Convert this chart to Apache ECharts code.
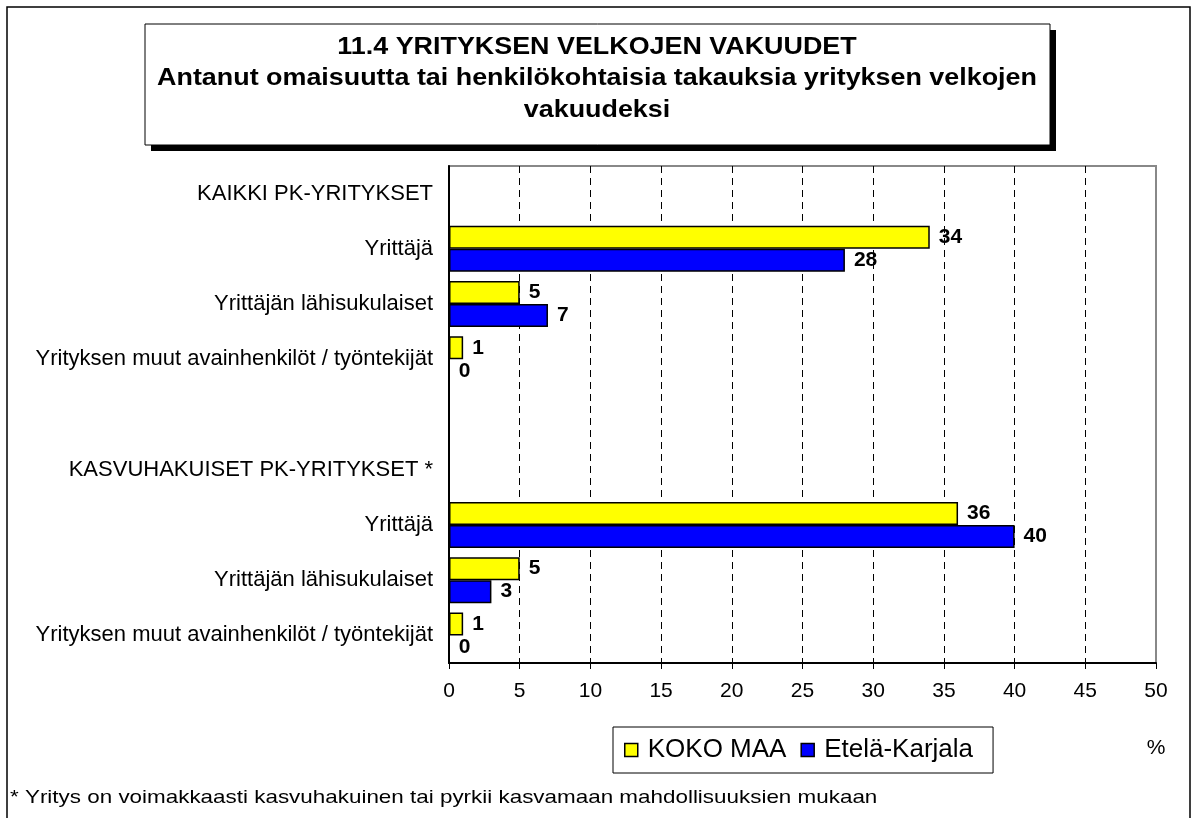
<!DOCTYPE html>
<html>
<head>
<meta charset="utf-8">
<script src="https://cdn.jsdelivr.net/npm/echarts@6/dist/echarts.min.js"></script>
<style>
  html, body { margin: 0; padding: 0; background: #fff; }
  #chart { width: 1194px; height: 818px; }
</style>
</head>
<body>
<div id="chart"></div>
<script>
const categories = [
  'KAIKKI PK-YRITYKSET',
  'Yrittäjä',
  'Yrittäjän lähisukulaiset',
  'Yrityksen muut avainhenkilöt / työntekijät',
  '',
  'KASVUHAKUISET PK-YRITYKSET *',
  'Yrittäjä',
  'Yrittäjän lähisukulaiset',
  'Yrityksen muut avainhenkilöt / työntekijät'
]
const kokoMaa = [null, 34, 5, 1, null, null, 36, 5, 1]
const etelaKarjala = [null, 28, 7, 0, null, null, 40, 3, 0]
const seriesNames = ['KOKO MAA', 'Etelä-Karjala']
const titleLines = [
  '11.4 YRITYKSEN VELKOJEN VAKUUDET',
  'Antanut omaisuutta tai henkilökohtaisia takauksia yrityksen velkojen',
  'vakuudeksi'
]
const footnote = '* Yritys on voimakkaasti kasvuhakuinen tai pyrkii kasvamaan mahdollisuuksien mukaan'
const unitLabel = '%'

const FONT = '"Liberation Sans", Arial, sans-serif'

function barSeries(name, data, color) {
  return {
    name: name,
    type: 'bar',
    data: data,
    barWidth: 23,
    barGap: '0%',
    itemStyle: { color: color, borderColor: '#000', borderWidth: 1.5 },
    label: {
      show: true,
      position: 'right',
      distance: 9,
      color: '#000',
      fontFamily: FONT,
      fontWeight: 'bold',
      fontSize: 21
    }
  }
}

const chart = echarts.init(document.getElementById('chart'), null, { renderer: 'canvas' })

chart.setOption({
  backgroundColor: '#fff',
  animation: false,
  textStyle: { fontFamily: FONT, color: '#000' },
  grid: {
    left: 449, right: 38, top: 166, bottom: 155,
    show: true, borderColor: '#888', borderWidth: 2,
    containLabel: false
  },
  legend: {
    data: seriesNames,
    left: 613,
    top: 727,
    orient: 'horizontal',
    icon: 'rect',
    itemWidth: 13,
    itemHeight: 13,
    itemGap: 14,
    padding: [10, 20, 10, 11],
    borderColor: '#000',
    borderWidth: 1,
    itemStyle: { borderColor: '#000', borderWidth: 1.5 },
    textStyle: { fontFamily: FONT, fontSize: 26, color: '#000', padding: [0, 0, 0, 5] }
  },
  xAxis: {
    type: 'value',
    min: 0,
    max: 50,
    interval: 5,
    axisLine: { show: true, lineStyle: { color: '#000', width: 2 } },
    axisTick: { show: true, length: 6, lineStyle: { color: '#000', width: 1 } },
    axisLabel: { fontFamily: FONT, fontSize: 21, color: '#000', margin: 18 },
    splitLine: {
      show: true,
      showMinLine: false,
      showMaxLine: false,
      lineStyle: { color: '#000', width: 1, type: [7, 5] }
    }
  },
  yAxis: {
    type: 'category',
    inverse: true,
    data: categories,
    axisLine: { show: true, lineStyle: { color: '#000', width: 2 } },
    axisTick: { show: false },
    axisLabel: { fontFamily: FONT, fontSize: 22, color: '#000', margin: 16, interval: 0 },
    splitLine: { show: false }
  },
  series: [
    barSeries(seriesNames[0], kokoMaa, '#FFFF00'),
    barSeries(seriesNames[1], etelaKarjala, '#0000FF')
  ],
  graphic: [
    // outer frame
    { type: 'rect', z: -10, shape: { x: 7, y: 7, width: 1183, height: 840 },
      style: { fill: 'none', stroke: '#000', lineWidth: 1.5 } },
    // title box with shadow
    { type: 'rect', shape: { x: 151, y: 30, width: 905, height: 121 },
      style: { fill: '#000' } },
    { type: 'rect', shape: { x: 145, y: 24, width: 905, height: 121 },
      style: { fill: '#fff', stroke: '#000', lineWidth: 1 } },
    ...titleLines.map((line, i) => ({
      type: 'text', x: 597, y: 47 + i * 31.5, scaleX: 1.12,
      style: { text: line, font: 'bold 24px ' + FONT, fill: '#000', align: 'center', verticalAlign: 'middle' }
    })),
    { type: 'text', x: 1156, y: 748,
      style: { text: unitLabel, font: '21px ' + FONT, fill: '#000', align: 'center', verticalAlign: 'middle' } },
    { type: 'text', x: 10, y: 798, scaleX: 1.18,
      style: { text: footnote, font: '19px ' + FONT, fill: '#000', align: 'left', verticalAlign: 'middle' } }
  ]
})
</script>
</body>
</html>
